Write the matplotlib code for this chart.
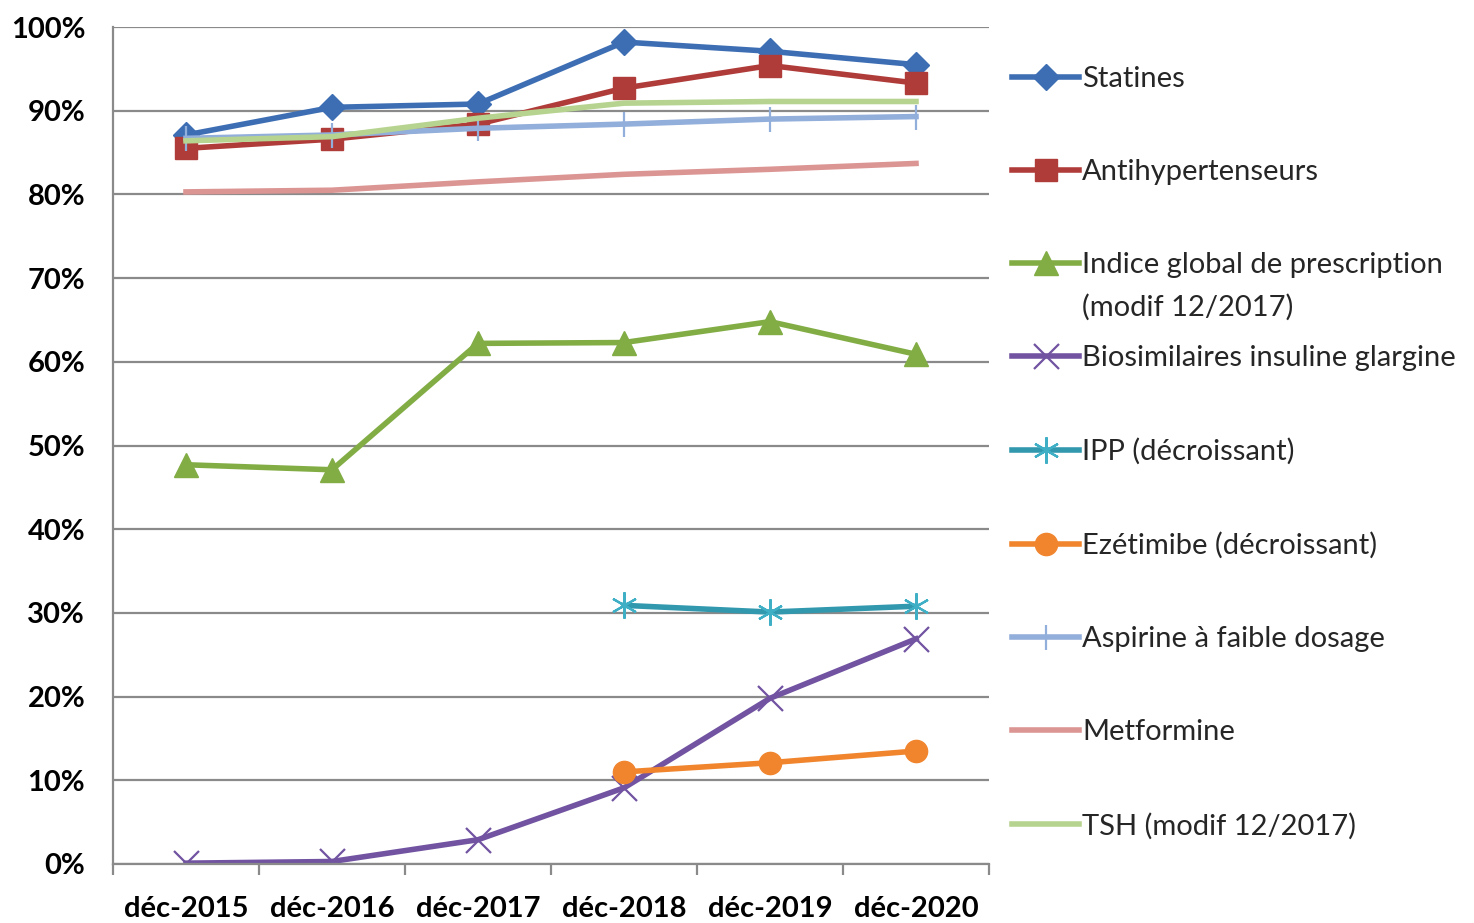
import numpy as np
import matplotlib
matplotlib.use("Agg")
import matplotlib.pyplot as plt
from matplotlib.text import Annotation
from matplotlib.ticker import FixedLocator, PercentFormatter

plt.rcParams["font.family"] = ["Lato", "DejaVu Sans"]

# Data (values in %)
periods = ["déc-2015", "déc-2016", "déc-2017", "déc-2018", "déc-2019", "déc-2020"]
statines = [87.1, 90.4, 90.8, 98.2, 97.1, 95.5]
antihypertenseurs = [85.5, 86.6, 88.4, 92.7, 95.4, 93.3]
indice_global = [47.7, 47.1, 62.2, 62.3, 64.8, 60.9]
biosimilaires = [0.1, 0.3, 2.9, 9.1, 19.8, 26.9]
ipp = [np.nan, np.nan, np.nan, 30.9, 30.1, 30.8]
ezetimibe = [np.nan, np.nan, np.nan, 11.0, 12.1, 13.5]
aspirine = [86.7, 87.1, 87.9, 88.4, 89.0, 89.3]
metformine = [80.3, 80.5, 81.5, 82.4, 83.0, 83.7]
tsh = [86.4, 86.9, 89.1, 90.9, 91.1, 91.1]

x = np.arange(len(periods))

fig = plt.figure(figsize=(14.74, 9.23), dpi=100)
ax = fig.add_axes([113 / 1474, 1 - 864 / 923, (989 - 113) / 1474, (864 - 27) / 923])

lw = 4
ax.plot(x, statines, color="#3D6EB4", lw=lw, marker="D", ms=13, label="Statines")
ax.plot(x, antihypertenseurs, color="#B03C3A", lw=lw, marker="s", ms=16, label="Antihypertenseurs")
ax.plot(x, indice_global, color="#82AD45", lw=lw, marker="^", ms=17,
        label="Indice global de prescription")
ax.plot(x, biosimilaires, color="#7153A1", lw=lw, marker="x", ms=18, mew=1.6,
        label="Biosimilaires insuline glargine")
ax.plot(x, ipp, color="#3198AE", lw=lw, marker=(6, 2, 0), ms=19, mew=1.6,
        mec="#3FAFC6", label="IPP (décroissant)")
ax.plot(x, ezetimibe, color="#F0852E", lw=lw, marker="o", ms=16, label="Ezétimibe (décroissant)")
ax.plot(x, aspirine, color="#92AEDB", lw=lw, marker="|", ms=18, mew=1.6,
        label="Aspirine à faible dosage")
ax.plot(x, metformine, color="#DB9593", lw=lw, label="Metformine")
ax.plot(x, tsh, color="#B6D48F", lw=lw, label="TSH (modif 12/2017)")

ax.set_xlim(-0.5, len(periods) - 0.5)
ax.set_ylim(0, 100)
ax.yaxis.set_major_locator(FixedLocator(np.arange(0, 101, 10)))
ax.yaxis.set_major_formatter(PercentFormatter(decimals=0))
ax.set_xticks(x)
ax.set_xticklabels(periods)
ax.xaxis.set_minor_locator(FixedLocator(np.arange(-0.5, len(periods), 1)))

ax.grid(axis="y", color="#8A8A8A", lw=1.6)
ax.set_axisbelow(True)
for side in ["top", "right"]:
    ax.spines[side].set_visible(False)
for side in ["left", "bottom"]:
    ax.spines[side].set_color("#8A8A8A")
    ax.spines[side].set_linewidth(1.6)

ax.tick_params(axis="y", length=0, pad=20, labelsize=21)
ax.tick_params(axis="x", which="major", length=0, pad=23, labelsize=21)
ax.tick_params(axis="x", which="minor", length=8, width=1.6, color="#8A8A8A")
for lab in ax.get_xticklabels() + ax.get_yticklabels():
    lab.set_fontweight("bold")

leg = fig.legend(loc="upper left", bbox_to_anchor=(1012 / 1474, 1 - 66 / 923),
                 frameon=False, fontsize=21, handlelength=2.3, handletextpad=0.1,
                 labelspacing=2.3, borderaxespad=0, borderpad=0)
for t in leg.get_texts():
    t.set_color("#262626")

# second line of the "Indice global" legend entry
ann = Annotation("(modif 12/2017)", xy=(0, 0), xycoords=leg.get_texts()[2],
                 xytext=(0, -11), textcoords="offset points", va="top", ha="left",
                 fontsize=21, color="#262626", zorder=10)
fig.add_artist(ann)

fig.savefig("out.png", dpi=100)
